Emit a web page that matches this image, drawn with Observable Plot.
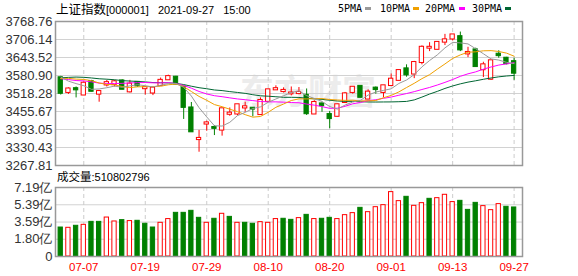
<!DOCTYPE html>
<html><head><meta charset="utf-8">
<script src="https://cdn.jsdelivr.net/npm/d3@7"></script>
<script src="https://cdn.jsdelivr.net/npm/@observablehq/plot@0.6"></script>
<style>
body{margin:0;background:#fff;}
#wrap{position:relative;width:578px;height:276px;overflow:hidden;background:#fff;font-family:"Liberation Sans",Arial,sans-serif;}
.abs{position:absolute;white-space:pre;line-height:1;}
#price,#vol{position:absolute;left:0;z-index:1;}
#price{top:0}
#vol{top:176px}
.lg{position:absolute;font-family:"DejaVu Sans Mono",monospace;font-size:10px;line-height:1;color:#000;top:4px;}
.sw{position:absolute;width:6px;height:3px;top:7px;}
.cjk{font-family:"Noto Sans CJK SC",sans-serif;}
</style></head><body>
<div id="wrap">
  <div class="abs cjk" id="wm" style="left:240px;top:73px;font-size:34px;font-weight:bold;color:#ececec;z-index:0;">东方财富</div>
  <div id="price"></div>
  <div id="vol"></div>
  <div class="abs" id="title" style="left:56px;top:3px;font-size:11px;word-spacing:6px;color:#000;z-index:2;"><span class="cjk" style="font-size:12.5px;word-spacing:0">上证指数</span>[000001] 2021-09-27 15:00</div>
  <div id="legend"></div>
  <div class="abs" id="vlabel" style="left:57px;top:171px;font-size:11px;color:#000;z-index:2;"><span class="cjk" style="font-size:11.5px">成交量</span>:510802796</div>
</div>
<script>
// ---------- data ----------
const dates = ["07-02","07-05","07-06","07-07","07-08","07-09","07-12","07-13","07-14","07-15","07-16","07-19","07-20","07-21","07-22","07-23","07-26","07-27","07-28","07-29","07-30",
"08-02","08-03","08-04","08-05","08-06","08-09","08-10","08-11","08-12","08-13","08-16","08-17","08-18","08-19","08-20","08-23","08-24","08-25","08-26","08-27","08-30","08-31",
"09-01","09-02","09-03","09-06","09-07","09-08","09-09","09-10","09-13","09-14","09-15","09-16","09-17","09-22","09-23","09-24","09-27"];
const opens  = [3573,3522,3535,3513,3560,3516,3548,3549,3562,3524,3557,3535,3520,3546,3566,3575,3541,3468,3358,3412,3400,3391,3446,3447,3468,3467,3445,3491,3531,3525,3517,3518,3512,3447,3482,3445,3439,3487,3522,3543,3499,3537,3522,3546,3564,3604,3586,3626,3676,3672,3697,3708,3716,3656,3670,3601,3568,3655,3641,3629];
const highs  = [3578,3538,3541,3559,3564,3529,3564,3564,3566,3564,3560,3541,3538,3572,3582,3578,3541,3487,3390,3422,3407,3466,3468,3480,3488,3468,3503,3533,3545,3538,3541,3539,3534,3493,3485,3456,3481,3522,3541,3543,3531,3541,3546,3586,3600,3618,3630,3684,3695,3697,3724,3723,3732,3679,3676,3627,3633,3667,3644,3641];
const lows   = [3513,3515,3503,3511,3524,3488,3541,3541,3531,3520,3540,3513,3511,3546,3565,3550,3428,3385,3314,3387,3372,3370,3439,3441,3453,3437,3444,3488,3529,3520,3510,3514,3442,3446,3453,3396,3437,3486,3516,3503,3497,3516,3503,3545,3562,3575,3570,3618,3664,3670,3685,3701,3664,3643,3611,3574,3564,3641,3618,3564];
const closes = [3519,3534,3531,3554,3526,3525,3556,3559,3533,3551,3545,3539,3537,3564,3577,3551,3470,3385,3362,3416,3397,3465,3450,3479,3472,3464,3494,3531,3535,3529,3520,3522,3448,3487,3476,3431,3479,3517,3540,3505,3523,3532,3545,3568,3598,3583,3626,3679,3679,3696,3705,3722,3670,3661,3612,3618,3632,3650,3622,3589];
// closes before 07-02 (estimated), needed for the moving averages at the left edge
const priorCloses = [3487,3497,3581,3593,3609,3601,3615,3625,3597,3584,3592,3600,3580,3591,3611,3590,3557,3518,3525,3525,3529,3557,3567,3566,3608,3606,3573,3591,3589];
// volume in 亿 shares
const volumes = [3.02,2.99,3.20,3.30,3.61,3.61,4.06,3.65,3.79,3.69,3.72,3.41,3.02,3.51,3.90,4.55,4.55,4.76,4.03,3.51,3.93,4.45,4.13,3.51,3.51,3.41,3.58,3.51,3.90,3.93,3.82,4.00,4.34,3.90,3.93,4.03,3.90,4.31,4.52,5.07,4.62,5.14,5.35,6.71,5.77,6.22,5.28,5.56,6.01,6.08,6.43,5.67,5.80,4.86,5.59,5.25,4.83,5.46,5.18,5.11];
const volumeUp = [0,1,0,1,0,0,1,1,0,1, 0,0,0,1,1,0,0,0,0,1, 0,1,0,1,0,0,1,1,1,0, 0,1,0,1,0,0,1,1,1,0, 1,1,1,1,1,0,1,1,0,1, 1,1,0,0,0,1,1,1,0,0];
const priceTicks = [3267.81,3330.43,3393.05,3455.67,3518.28,3580.90,3643.52,3706.14,3768.76];
const volumeTicks = [0,1.80,3.59,5.39,7.19];
const xTickDates = ["07-07","07-19","07-29","08-10","08-20","09-01","09-13","09-27"];
const maNames = ["5PMA","10PMA","20PMA","30PMA"];
const maPeriods = [5,10,20,30];
const maColors = ["#9a9a9a","#f0a000","#ff00ff","#006633"];

// ---------- build ----------
const RED = "#ff0000", GREEN = "#008000";
const candles = dates.map((d,i)=>({i, date:d, open:opens[i], high:highs[i], low:lows[i], close:closes[i], up: closes[i] >= opens[i]}));
const vols = dates.map((d,i)=>({i, v:volumes[i], up: volumeUp[i]===1}));
const all = priorCloses.concat(closes);
const P = priorCloses.length;
const maSeries = maPeriods.map(n => dates.map((d,i)=>({i, v: d3.mean(all.slice(P+i-n+1, P+i+1))})));
const xTickIdx = xTickDates.map(d => dates.indexOf(d));
const xDomain = [-0.68, 60.09];
const bw = 0.28;
const W = 578;
const baseStyle = {background:"transparent", overflow:"visible", fontFamily:"'Liberation Sans', Arial, sans-serif"};

const price = Plot.plot({
  width: W, height: 172,
  marginLeft: 55, marginRight: 56, marginTop: 21, marginBottom: 7,
  style: baseStyle,
  x: {domain: xDomain, axis: null, label: null},
  y: {domain: [priceTicks[0], priceTicks[priceTicks.length-1]], label: null},
  color: {type: "identity"},
  marks: [
    Plot.ruleY(priceTicks, {stroke: "#d2d2d2"}),
    Plot.ruleX(xTickIdx, {stroke: "#cccccc", strokeDasharray: "4,3"}),
    Plot.ruleX(candles, {x: "i", y1: "low", y2: "high", stroke: d => d.up ? RED : GREEN}),
    Plot.rect(candles, {x1: d => d.i - bw, x2: d => d.i + bw, y1: "open", y2: "close",
      fill: d => d.up ? "#ffffff" : GREEN, stroke: d => d.up ? RED : GREEN, insetTop: -0.5, insetBottom: -0.5}),
    ...[3,2,1,0].map(k => Plot.line(maSeries[k], {x: "i", y: "v", stroke: maColors[k], strokeWidth: 1})),
    Plot.axisY(priceTicks, {tickSize: 0, tickPadding: 3, tickFormat: d => d.toFixed(2), fontSize: 13, fill: "#333", label: null}),
    Plot.frame({stroke: "#999", strokeWidth: 1.5})
  ]
});
document.getElementById("price").appendChild(price);

const vol = Plot.plot({
  width: W, height: 100,
  marginLeft: 55, marginRight: 56, marginTop: 11, marginBottom: 20,
  style: baseStyle,
  x: {domain: xDomain, label: null},
  y: {domain: [0, volumeTicks[volumeTicks.length-1]], label: null},
  color: {type: "identity"},
  marks: [
    Plot.ruleY(volumeTicks, {stroke: "#d2d2d2"}),
    Plot.ruleX(xTickIdx, {stroke: "#cccccc", strokeDasharray: "4,3"}),
    Plot.rect(vols, {x1: d => d.i - bw, x2: d => d.i + bw, y1: 0, y2: "v",
      fill: d => d.up ? "#ffffff" : GREEN, stroke: d => d.up ? RED : GREEN}),
    Plot.axisY(volumeTicks, {tickSize: 0, tickPadding: 3, tickFormat: d => d === 0 ? "0" : d.toFixed(2) + "亿", fontSize: 13, fill: "#333", label: null}),
    Plot.axisX(xTickIdx, {tickSize: 0, tickPadding: 6, tickFormat: i => dates[i], fontSize: 11.5, fill: RED, label: null}),
    Plot.frame({stroke: "#999", strokeWidth: 1.5})
  ]
});
document.getElementById("vol").appendChild(vol);

// legend
const legendX = [338, 380, 425, 472];
const swatchX = [365, 413, 459, 505];
const lg = document.getElementById("legend");
maNames.forEach((n,k) => {
  const t = document.createElement("div"); t.className = "lg"; t.style.left = legendX[k] + "px"; t.textContent = n; lg.appendChild(t);
  const s = document.createElement("div"); s.className = "sw"; s.style.left = swatchX[k] + "px"; s.style.background = maColors[k]; lg.appendChild(s);
});
</script>
</body></html>
